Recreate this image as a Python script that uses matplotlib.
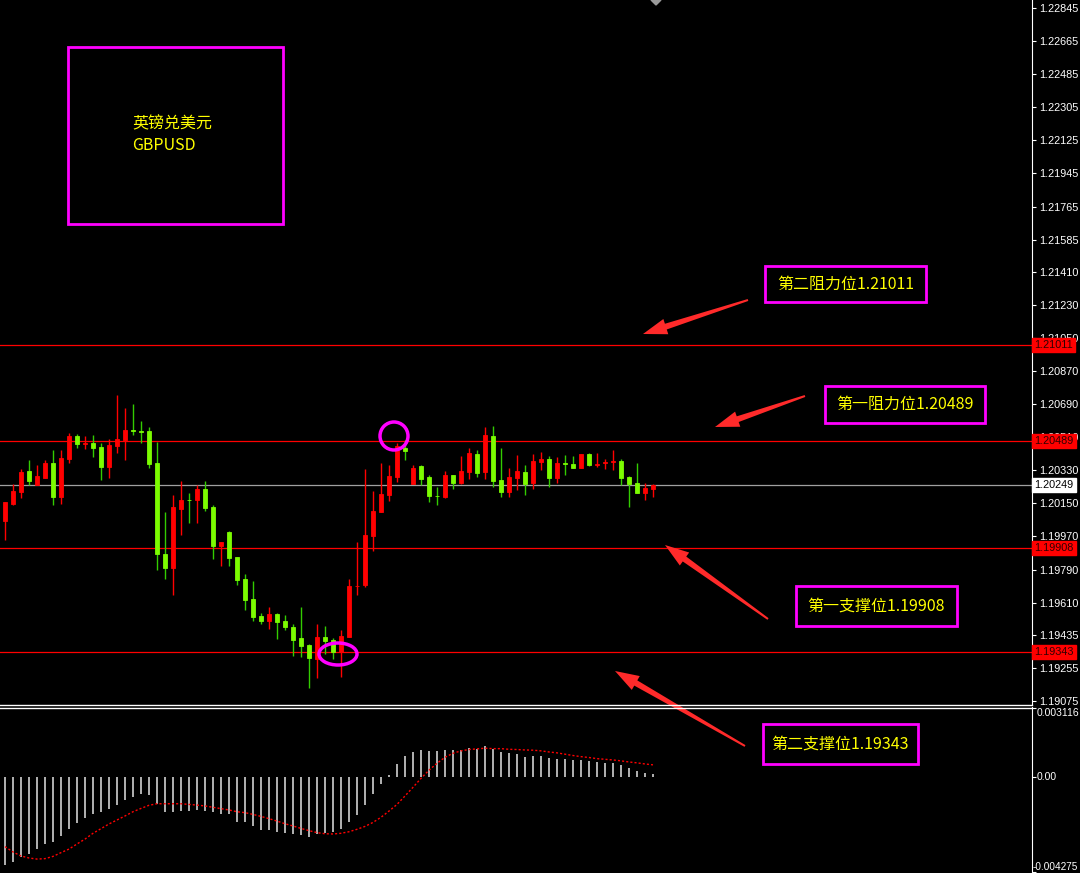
import numpy as np
import matplotlib
matplotlib.use("Agg")
import matplotlib.pyplot as plt
from matplotlib.patches import Rectangle, Ellipse, Polygon

plt.rcParams["axes.unicode_minus"] = False

# GBPUSD candles (oldest -> newest)
opens = [1.20056, 1.20147, 1.20214, 1.20327, 1.20251, 1.20290, 1.20370, 1.20185, 1.20392, 1.20517,
         1.20475, 1.20479, 1.20457, 1.20349, 1.20463, 1.20495, 1.20550, 1.20546, 1.20544, 1.20370,
         1.19875, 1.19801, 1.20122, 1.20169, 1.20171, 1.20229, 1.20131, 1.19920, 1.19995, 1.19859,
         1.19739, 1.19630, 1.19538, 1.19512, 1.19549, 1.19511, 1.19480, 1.19418, 1.19380, 1.19306,
         1.19424, 1.19407, 1.19341, 1.19425, 1.19701, 1.19707, 1.19975, 1.20105, 1.20198, 1.20296,
         1.20452, 1.20258, 1.20354, 1.20294, 1.20192, 1.20187, 1.20305, 1.20262, 1.20323, 1.20419,
         1.20323, 1.20517, 1.20279, 1.20214, 1.20290, 1.20321, 1.20262, 1.20376, 1.20392, 1.20290,
         1.20370, 1.20365, 1.20345, 1.20419, 1.20361, 1.20370, 1.20376, 1.20381, 1.20294, 1.20262,
         1.20209, 1.20230]
highs = [1.20158, 1.20256, 1.20338, 1.20387, 1.20359, 1.20387, 1.20441, 1.20441, 1.20534, 1.20528,
         1.20517, 1.20523, 1.20479, 1.20501, 1.20740, 1.20669, 1.20691, 1.20599, 1.20566, 1.20485,
         1.20104, 1.20196, 1.20272, 1.20207, 1.20251, 1.20272, 1.20142, 1.19941, 1.20000, 1.19859,
         1.19766, 1.19728, 1.19554, 1.19587, 1.19554, 1.19545, 1.19494, 1.19587, 1.19386, 1.19494,
         1.19484, 1.19418, 1.19462, 1.19739, 1.19941, 1.20338, 1.20218, 1.20370, 1.20359, 1.20479,
         1.20495, 1.20359, 1.20359, 1.20305, 1.20240, 1.20327, 1.20305, 1.20410, 1.20454, 1.20441,
         1.20566, 1.20572, 1.20454, 1.20345, 1.20414, 1.20359, 1.20419, 1.20430, 1.20408, 1.20403,
         1.20414, 1.20408, 1.20419, 1.20425, 1.20425, 1.20392, 1.20441, 1.20392, 1.20300, 1.20370,
         1.20262, 1.20256]
lows = [1.19951, 1.20142, 1.20182, 1.20251, 1.20251, 1.20290, 1.20142, 1.20149, 1.20372, 1.20454,
        1.20448, 1.20405, 1.20279, 1.20290, 1.20426, 1.20387, 1.20523, 1.20479, 1.20345, 1.19790,
        1.19741, 1.19654, 1.19980, 1.20046, 1.20046, 1.20111, 1.19848, 1.19812, 1.19812, 1.19708,
        1.19572, 1.19512, 1.19496, 1.19469, 1.19414, 1.19464, 1.19322, 1.19317, 1.19148, 1.19202,
        1.19331, 1.19302, 1.19208, 1.19425, 1.19654, 1.19697, 1.19893, 1.20105, 1.20165, 1.20269,
        1.20388, 1.20258, 1.20251, 1.20155, 1.20143, 1.20182, 1.20230, 1.20258, 1.20285, 1.20296,
        1.20285, 1.20241, 1.20187, 1.20187, 1.20225, 1.20198, 1.20229, 1.20332, 1.20240, 1.20262,
        1.20305, 1.20345, 1.20345, 1.20354, 1.20349, 1.20338, 1.20332, 1.20251, 1.20133, 1.20209,
        1.20169, 1.20187]
closes = [1.20158, 1.20218, 1.20321, 1.20274, 1.20300, 1.20370, 1.20187, 1.20398, 1.20517, 1.20475,
          1.20481, 1.20454, 1.20350, 1.20468, 1.20501, 1.20550, 1.20546, 1.20541, 1.20367, 1.19877,
          1.19801, 1.20131, 1.20169, 1.20166, 1.20229, 1.20127, 1.19920, 1.19941, 1.19855, 1.19735,
          1.19627, 1.19534, 1.19512, 1.19549, 1.19507, 1.19480, 1.19409, 1.19376, 1.19311, 1.19424,
          1.19404, 1.19344, 1.19429, 1.19703, 1.19703, 1.19979, 1.20109, 1.20202, 1.20300, 1.20463,
          1.20437, 1.20343, 1.20285, 1.20192, 1.20188, 1.20305, 1.20263, 1.20327, 1.20426, 1.20318,
          1.20523, 1.20274, 1.20214, 1.20294, 1.20327, 1.20258, 1.20381, 1.20392, 1.20290, 1.20370,
          1.20365, 1.20345, 1.20419, 1.20361, 1.20365, 1.20376, 1.20378, 1.20290, 1.20258, 1.20209,
          1.20234, 1.20249]

# MACD histogram and signal line
macd_hist = [-0.00393, -0.00380, -0.00357, -0.00344, -0.00321, -0.00300, -0.00291, -0.00264, -0.00233, -0.00204,
             -0.00182, -0.00164, -0.00155, -0.00141, -0.00123, -0.00101, -0.00087, -0.00074, -0.00078, -0.00119,
             -0.00155, -0.00155, -0.00150, -0.00150, -0.00146, -0.00150, -0.00155, -0.00164, -0.00164, -0.00200,
             -0.00200, -0.00218, -0.00236, -0.00236, -0.00245, -0.00249, -0.00254, -0.00258, -0.00267, -0.00254,
             -0.00249, -0.00245, -0.00231, -0.00200, -0.00168, -0.00123, -0.00074, -0.00029, 0.00011, 0.00060,
             0.00096, 0.00114, 0.00123, 0.00119, 0.00119, 0.00123, 0.00123, 0.00123, 0.00132, 0.00128,
             0.00141, 0.00128, 0.00114, 0.00110, 0.00105, 0.00092, 0.00096, 0.00096, 0.00087, 0.00083,
             0.00083, 0.00078, 0.00078, 0.00074, 0.00069, 0.00065, 0.00065, 0.00056, 0.00042, 0.00029,
             0.00020, 0.00015]
macd_signal = [-0.00312, -0.00336, -0.00354, -0.00363, -0.00368, -0.00366, -0.00356, -0.00339, -0.00323, -0.00300,
               -0.00278, -0.00252, -0.00231, -0.00210, -0.00192, -0.00174, -0.00155, -0.00140, -0.00126, -0.00119,
               -0.00119, -0.00119, -0.00119, -0.00122, -0.00125, -0.00129, -0.00135, -0.00141, -0.00147, -0.00155,
               -0.00159, -0.00167, -0.00176, -0.00186, -0.00197, -0.00209, -0.00219, -0.00230, -0.00240, -0.00249,
               -0.00254, -0.00255, -0.00252, -0.00245, -0.00234, -0.00221, -0.00203, -0.00180, -0.00152, -0.00122,
               -0.00084, -0.00045, -0.00005, 0.00032, 0.00063, 0.00090, 0.00108, 0.00119, 0.00125, 0.00128,
               0.00131, 0.00129, 0.00129, 0.00126, 0.00125, 0.00123, 0.00122, 0.00119, 0.00114, 0.00110,
               0.00104, 0.00098, 0.00093, 0.00089, 0.00084, 0.00081, 0.00078, 0.00074, 0.00069, 0.00065,
               0.00060, 0.00056]

price_ticks = [1.22845, 1.22665, 1.22485, 1.22305, 1.22125, 1.21945, 1.21765, 1.21585, 1.21410, 1.21230,
               1.21050, 1.20870, 1.20690, 1.20510, 1.20330, 1.20150, 1.19970, 1.19790, 1.19610, 1.19435,
               1.19255, 1.19075]
macd_ticks = [0.003116, 0.0, -0.004275]
macd_tick_labels = ["0.003116", "0.00", "-0.004275"]

level_prices = [1.21011, 1.20489, 1.19908, 1.19343]
level_names = ["第二阻力位", "第一阻力位", "第一支撑位", "第二支撑位"]
current_price = 1.20249

CJK = ["Noto Sans CJK SC", "DejaVu Sans"]
AXF = ["Liberation Sans", "DejaVu Sans"]
UP = "#ff0000"
DOWN = "#7cfc00"
DOWN_WICK = "#33cc00"

W, H = 1080, 873
fig = plt.figure(figsize=(W / 100, H / 100), dpi=100, facecolor="black")

# main price panel: pixels 0..1032 wide, 0..704 tall
ax = fig.add_axes([0, (H - 704) / H, 1032 / W, 704 / H], facecolor="black")
ax.set_xlim(-0.625, 128.375)
ax.set_ylim(1.1905876, 1.2288852)

x = np.arange(len(opens))
o = np.array(opens); c = np.array(closes)
up = c >= o
cols = np.where(up, UP, DOWN)
wick_cols = np.where(up, UP, DOWN_WICK)
ax.vlines(x, lows, highs, colors=wick_cols, linewidth=1, zorder=2)
ax.bar(x, np.abs(c - o), bottom=np.minimum(o, c), width=0.6, color=cols,
       edgecolor=cols, linewidth=0.6, zorder=3)

for p in level_prices:
    ax.axhline(p, color="#ff0000", linewidth=0.9, zorder=1)
ax.axhline(current_price, color="#a0a0a0", linewidth=0.9, zorder=1)

for s in ["top", "left", "bottom"]:
    ax.spines[s].set_visible(False)
ax.spines["right"].set_color("white")
ax.set_xticks([])
ax.yaxis.tick_right()
ax.set_yticks(price_ticks)
ax.set_yticklabels([f"{v:.5f}" for v in price_ticks], family=AXF)
ax.tick_params(axis="y", colors="white", labelsize=7.8, length=3, pad=2)

tr = ax.get_yaxis_transform()
for p in level_prices:
    ax.text(1.0025, p, f"{p:.5f}", transform=tr, fontsize=7.8, family=AXF, color="#300000",
            va="center", ha="left", clip_on=False, zorder=6,
            bbox=dict(boxstyle="square,pad=0.2", fc="#ff0000", ec="#ff0000"))
ax.text(1.0025, current_price, f"{current_price:.5f}", transform=tr, fontsize=7.8, family=AXF,
        color="black", va="center", ha="left", clip_on=False, zorder=6,
        bbox=dict(boxstyle="square,pad=0.2", fc="white", ec="white"))

# MACD panel
ax2 = fig.add_axes([0, 0, 1032 / W, 166 / H], facecolor="black")
ax2.set_xlim(-0.625, 128.375)
ax2.set_ylim(-0.0043065, 0.0031635)
ax2.vlines(x, 0, macd_hist, colors="#c0c0c0", linewidth=1.3)
ax2.plot(x, macd_signal, color="#ff0000", linestyle=(0, (1.5, 1.5)), linewidth=1)
for s in ["top", "left", "bottom"]:
    ax2.spines[s].set_visible(False)
ax2.spines["right"].set_color("white")
ax2.set_xticks([])
ax2.yaxis.tick_right()
ax2.set_yticks(macd_ticks)
ax2.set_yticklabels([])
ax2.tick_params(axis="y", colors="white", length=3)
tr2 = ax2.get_yaxis_transform()
ax2.text(1.0045, macd_ticks[0], macd_tick_labels[0], transform=tr2, fontsize=7.5, family=AXF,
         color="white", va="top", ha="left", clip_on=False)
ax2.text(1.0045, macd_ticks[1], macd_tick_labels[1], transform=tr2, fontsize=7.5, family=AXF,
         color="white", va="center", ha="left", clip_on=False)
ax2.text(1078 / 1032, macd_ticks[2], macd_tick_labels[2], transform=tr2, fontsize=7.2, family=AXF,
         color="white", va="bottom", ha="right", clip_on=False)

# overlay in pixel coordinates for drawn objects
ov = fig.add_axes([0, 0, 1, 1], facecolor="none", zorder=10)
ov.set_xlim(0, W)
ov.set_ylim(H, 0)
ov.axis("off")

ov.plot([0, 1032], [704.5, 704.5], color="white", linewidth=1)
ov.plot([0, 1032], [707.5, 707.5], color="white", linewidth=1)
ov.add_patch(Polygon([[651, 0], [661, 0], [656, 5]], closed=True, color="#9a9a9a"))

MAG = "#ff00ff"
ov.add_patch(Rectangle((68, 47), 215, 177, fill=False, ec=MAG, lw=2))
ov.text(132, 124, "英镑兑美元", color="#ffff00", fontsize=11.5, family=CJK, va="center", ha="left")
ov.text(132, 145, "GBPUSD", color="#ffff00", fontsize=11.5, family=CJK, va="center", ha="left")

boxes = [(765, 266, 161, 36), (825, 386, 160, 37), (796, 586, 161, 40), (763, 724, 155, 40)]
for (bx, by, bw, bh), name, p in zip(boxes, level_names, level_prices):
    ov.add_patch(Rectangle((bx, by), bw, bh, fc="black", ec=MAG, lw=2))
    ov.text(bx + bw / 2, by + bh / 2, f"{name}{p:.5f}", color="#ffff00", fontsize=11.5,
            family=CJK, va="center", ha="center")


def arrow(tail, tip, head_len=24, head_w=8, shaft_w=3, tail_w=1):
    t = np.array(tail, float); p = np.array(tip, float)
    u = (p - t) / np.hypot(*(p - t))
    n = np.array([-u[1], u[0]])
    b = p - u * head_len
    pts = [t + n * tail_w, b + n * shaft_w, b + n * head_w, p,
           b - n * head_w, b - n * shaft_w, t - n * tail_w]
    ov.add_patch(Polygon(pts, closed=True, color="#ff2a2a", lw=0))


arrow((748, 300), (643, 334))
arrow((805, 396), (715, 427))
arrow((768, 619), (665, 545))
arrow((745, 746), (615, 671))

ov.add_patch(Ellipse((394, 436), 28, 28, fill=False, ec=MAG, lw=2.5))
ov.add_patch(Ellipse((338, 654), 38, 22, fill=False, ec=MAG, lw=2.5))

fig.savefig("out.png", dpi=100, facecolor="black")
